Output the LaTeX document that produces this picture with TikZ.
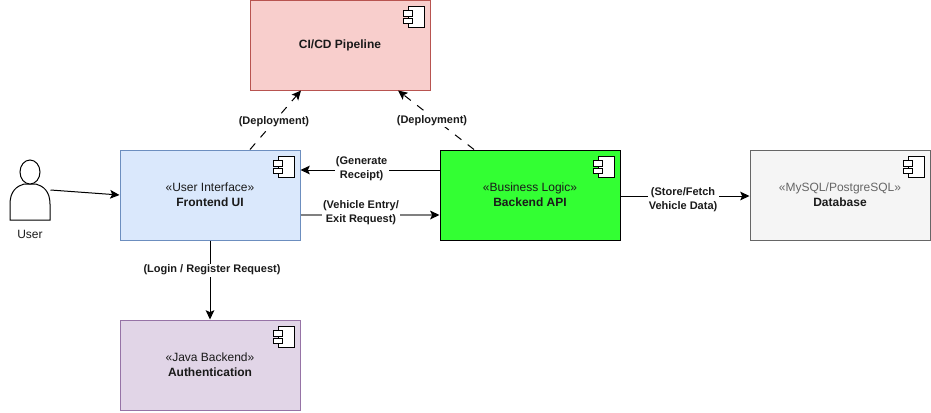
\documentclass[tikz,border=0pt]{standalone}
\usepackage{fontspec}
\setmainfont{Liberation Sans}
\usetikzlibrary{arrows.meta}
\definecolor{uiblue}{HTML}{DAE8FC}
\definecolor{uiedge}{HTML}{6C8EBF}
\definecolor{cired}{HTML}{F8CECC}
\definecolor{ciedge}{HTML}{B85450}
\definecolor{apigreen}{HTML}{33FF33}
\definecolor{dbgray}{HTML}{F5F5F5}
\definecolor{dbedge}{HTML}{666666}
\definecolor{authpurple}{HTML}{E1D5E7}
\definecolor{authedge}{HTML}{9673A6}
\definecolor{inkgray}{HTML}{1A1A1A}
\newcommand{\compicon}[1]{%
  \begin{scope}[shift={(#1.north east)}]
    \draw[black, fill=white] (-22,7) rectangle (-6,28);
    \draw[black, fill=white] (-27,11) rectangle (-18,16.5);
    \draw[black, fill=white] (-27,19) rectangle (-18,24);
  \end{scope}}
\begin{document}
\begin{tikzpicture}[x=0.75pt, y=-0.75pt, line width=0.75pt,
    comp/.style={draw, minimum width=135pt, minimum height=67.5pt, inner sep=0pt,
      align=center, text=inkgray, font=\fontsize{9}{11.5}\selectfont},
    flow/.style={black, -{Stealth[length=7pt, width=6.5pt, inset=1.5pt, color=black]}},
    deploy/.style={flow, dash pattern=on 6pt off 6pt},
    linklabel/.style={fill=white, inner sep=1pt, align=center, text=inkgray,
      font=\fontsize{8.25}{10.5}\selectfont\bfseries}]
  \useasboundingbox (0,0) rectangle (931,412);
  \node[comp, fill=cired, draw=ciedge] (pipeline) at (340,45) {\textbf{CI/CD Pipeline}\rule[-1.5pt]{0pt}{1pt}};
  \node[comp, fill=uiblue, draw=uiedge] (frontend) at (210,195) {«User Interface»\\\textbf{Frontend UI}};
  \node[comp, fill=apigreen, draw=black] (backend) at (530,195) {«Business Logic»\\\textbf{Backend API}};
  \node[comp, fill=dbgray, draw=dbedge, text=dbedge] (database) at (840,195) {«MySQL/PostgreSQL»\\\textcolor{inkgray}{\textbf{Database}}};
  \node[comp, fill=authpurple, draw=authedge] (auth) at (210,365) {«Java Backend»\\\textbf{Authentication}};
  \foreach \boxname in {pipeline, frontend, backend, database, auth} {
    \compicon{\boxname}
  }
  \node[minimum width=30pt, minimum height=45pt, inner sep=0pt] (user) at (30,190) {};
  \draw[black, fill=white] (10,220) -- (10,204) .. controls (10,191) and (17,186) .. (24,184)
    -- (36,184) .. controls (43,186) and (50,191) .. (50,204) -- (50,220) -- cycle;
  \draw[black, fill=white] (30,172) ellipse (10 and 12);
  \node[text=inkgray, font=\fontsize{9}{11.25}\selectfont] (userlabel) at (30,234) {User};
  \draw[flow] (user.east) -- (frontend.west);
  \draw[deploy] ([shift={(40,0)}]frontend.north) -- node[linklabel, pos=0.47] (deployleft) {(Deployment)} ([shift={(-39,0)}]pipeline.south);
  \draw[deploy] ([shift={(-56,0)}]backend.north) -- node[linklabel, pos=0.5, xshift=-3pt, yshift=-0.75pt] (deployright) {(Deployment)} ([shift={(58,0)}]pipeline.south);
  \draw[flow] ([shift={(0,-25)}]backend.west) -- node[linklabel, pos=0.56, yshift=1pt] (receipt) {(Generate\\Receipt)} ([shift={(0,-25)}]frontend.east);
  \draw[flow, draw=black!50, line width=1.1pt] ([shift={(0,20)}]frontend.east) -- node[linklabel, pos=0.435, yshift=1.5pt] (entry) {(Vehicle Entry/\\Exit Request)} ([shift={(0,20)}]backend.west);
  \draw[flow] ([shift={(0,1)}]backend.east) -- node[linklabel, pos=0.485, yshift=-3pt] (store) {(Store/Fetch\\Vehicle Data)} ([shift={(0,1)}]database.west);
  \draw[flow] (frontend.south) -- node[linklabel, pos=0.375, xshift=1.5pt] (login) {(Login / Register Request)} (auth.north);
\end{tikzpicture}
\end{document}
